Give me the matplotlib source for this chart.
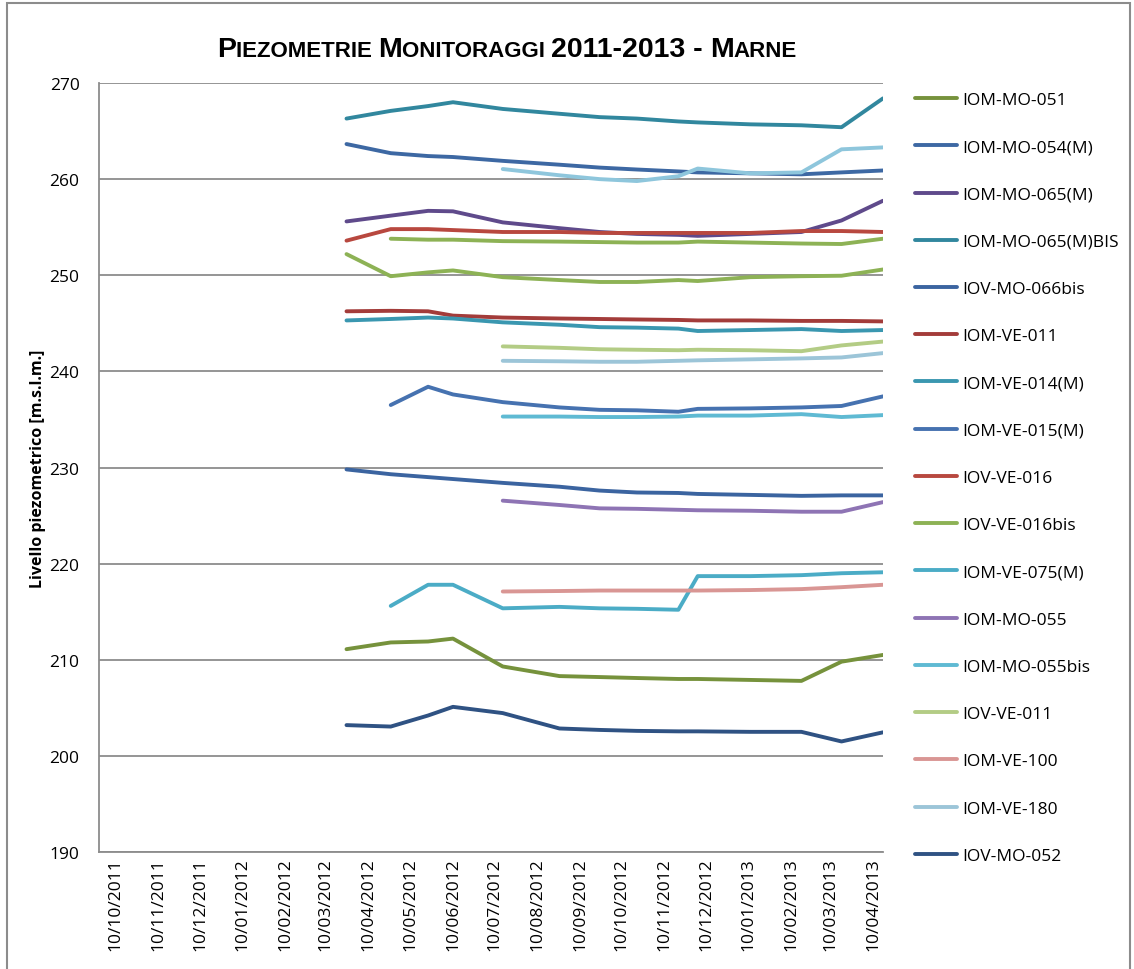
import numpy as np
import matplotlib.pyplot as plt
import matplotlib.dates as mdates
from matplotlib.patches import Rectangle

# ── Dati ─────────────────────────────────────────────────────────────────────
date_campagne = np.array([
    "2012-03-25", "2012-04-26", "2012-05-23", "2012-06-10", "2012-07-16",
    "2012-08-26", "2012-09-24", "2012-10-21", "2012-11-20", "2012-12-04",
    "2013-01-11", "2013-02-17", "2013-03-18", "2013-04-17",
], dtype="datetime64[D]")

n = np.nan
mo_051      = [211.1, 211.8, 211.9, 212.2, 209.3, 208.3, 208.2, 208.1, 208.0, 208.0, 207.9, 207.8, 209.8, 210.5]
mo_054m     = [263.65, 262.7, 262.4, 262.3, 261.9, 261.5, 261.2, 261.0, 260.8, 260.7, 260.6, 260.5, 260.7, 260.9]
mo_065m     = [255.6, 256.2, 256.7, 256.65, 255.5, 254.9, 254.5, 254.3, 254.2, 254.1, 254.3, 254.5, 255.7, 257.75]
mo_065m_bis = [266.3, 267.1, 267.6, 268.0, 267.3, 266.8, 266.45, 266.3, 266.0, 265.9, 265.7, 265.6, 265.4, 268.4]
mo_066bis   = [229.8, 229.3, 229.0, 228.8, 228.4, 228.0, 227.6, 227.4, 227.35, 227.25, 227.15, 227.05, 227.1, 227.1]
ve_011      = [246.25, 246.3, 246.25, 245.8, 245.6, 245.5, 245.45, 245.4, 245.35, 245.3, 245.3, 245.25, 245.25, 245.2]
ve_014m     = [245.3, 245.45, 245.6, 245.5, 245.1, 244.85, 244.6, 244.55, 244.45, 244.2, 244.3, 244.4, 244.2, 244.3]
ve_015m     = [n, 236.5, 238.4, 237.6, 236.8, 236.25, 236.0, 235.95, 235.8, 236.1, 236.15, 236.25, 236.4, 237.4]
iov_ve_016  = [253.6, 254.8, 254.8, 254.7, 254.5, 254.5, 254.4, 254.4, 254.4, 254.4, 254.4, 254.6, 254.6, 254.5]
iov_016bis  = [252.2, 249.9, 250.3, 250.5, 249.8, 249.5, 249.3, 249.3, 249.5, 249.4, 249.8, 249.9, 249.95, 250.6]
ve_075m     = [n, 215.6, 217.8, 217.8, 215.35, 215.5, 215.35, 215.3, 215.2, 218.7, 218.7, 218.8, 219.0, 219.1]
mo_055      = [n, n, n, n, 226.55, 226.1, 225.75, 225.7, 225.6, 225.55, 225.5, 225.4, 225.4, 226.4]
mo_055bis   = [n, n, n, n, 235.3, 235.3, 235.25, 235.25, 235.3, 235.4, 235.4, 235.55, 235.25, 235.45]
iov_ve_011  = [n, n, n, n, 242.6, 242.45, 242.3, 242.25, 242.2, 242.25, 242.2, 242.1, 242.7, 243.1]
ve_100      = [n, n, n, n, 217.1, 217.15, 217.2, 217.2, 217.2, 217.2, 217.25, 217.35, 217.55, 217.8]
ve_180      = [n, n, n, n, 241.1, 241.05, 241.0, 241.0, 241.1, 241.15, 241.25, 241.35, 241.45, 241.9]
iov_mo_052  = [203.2, 203.05, 204.2, 205.1, 204.45, 202.85, 202.7, 202.6, 202.55, 202.55, 202.5, 202.5, 201.5, 202.45]
# serie senza voce in legenda
extra_a     = [n, 253.8, 253.7, 253.7, 253.55, 253.5, 253.45, 253.4, 253.4, 253.5, 253.4, 253.3, 253.25, 253.8]
extra_b     = [n, n, n, n, 261.05, 260.4, 260.0, 259.8, 260.3, 261.1, 260.6, 260.7, 263.1, 263.3]

serie = [
    ("IOM-MO-051",         mo_051,      "#76923c"),
    ("IOM-MO-054(M)",      mo_054m,     "#3d68a3"),
    ("IOM-MO-065(M)",      mo_065m,     "#5f4a8b"),
    ("IOM-MO-065(M)BIS",   mo_065m_bis, "#31879e"),
    ("IOV-MO-066bis",      mo_066bis,   "#3b64a0"),
    ("IOM-VE-011",         ve_011,      "#a33c3a"),
    ("IOM-VE-014(M)",      ve_014m,     "#3a97b0"),
    ("IOM-VE-015(M)",      ve_015m,     "#4672b0"),
    ("IOV-VE-016",         iov_ve_016,  "#b8483f"),
    ("IOV-VE-016bis",      iov_016bis,  "#8db255"),
    ("IOM-VE-075(M)",      ve_075m,     "#4bacc6"),
    ("IOM-MO-055",         mo_055,      "#8e74b4"),
    ("IOM-MO-055bis",      mo_055bis,   "#5fbad3"),
    ("IOV-VE-011",         iov_ve_011,  "#b3cc85"),
    ("IOM-VE-100",         ve_100,      "#d99694"),
    ("IOM-VE-180",         ve_180,      "#9cc5d8"),
    ("IOV-MO-052",         iov_mo_052,  "#2f5283"),
    ("_extra_a",           extra_a,     "#8db255"),
    ("_extra_b",           extra_b,     "#8ec6dc"),
]

# ── Figura ───────────────────────────────────────────────────────────────────
plt.rcParams["font.family"] = ["Open Sans", "DejaVu Sans"]
fig = plt.figure(figsize=(11.34, 9.70), dpi=100)
ax = fig.add_axes([99 / 1134, 117 / 970, (883 - 99) / 1134, (853 - 84) / 970])

for label, vals, clr in serie:
    ax.plot(date_campagne, np.array(vals, dtype=float), color=clr, lw=2.8,
            solid_capstyle="round", label=label)

ax.set_ylim(190, 270)
ax.set_yticks(np.arange(190, 271, 10))
ax.set_xlim(np.datetime64("2011-09-28"), np.datetime64("2013-04-17"))
ax.xaxis.set_major_locator(mdates.MonthLocator(bymonthday=10))
ax.xaxis.set_major_formatter(mdates.DateFormatter("%d/%m/%Y"))
ax.tick_params(axis="x", rotation=90, length=0, labelsize=12.5, pad=4)
ax.tick_params(axis="y", length=0, labelsize=12.5, pad=14)
ax.grid(axis="y", color="#8c8c8c", lw=1.3)
ax.set_axisbelow(True)
for s in ["top", "right"]:
    ax.spines[s].set_visible(False)
for s in ["left", "bottom"]:
    ax.spines[s].set_color("#8c8c8c")
    ax.spines[s].set_linewidth(1.3)

ax.set_ylabel("Livello piezometrico [m.s.l.m.]", fontsize=11.5, fontweight="bold")
ax.yaxis.set_label_coords((46 - 99) / 784, 0.5)

fig.legend(loc="upper left", bbox_to_anchor=(915 / 1134, 1 - 93 / 970),
           frameon=False, fontsize=12.5, handlelength=2.4, handletextpad=0.3,
           labelspacing=1.79, borderpad=0, borderaxespad=0)

# titolo in maiuscoletto
pezzi = [("P", 20.5), ("IEZOMETRIE ", 16), ("M", 20.5), ("ONITORAGGI ", 16),
         ("2011-2013 - ", 20.5), ("M", 20.5), ("ARNE", 16)]
renderer = fig.canvas.get_renderer()
testi = []
x0 = 0
for txt, fs in pezzi:
    t = fig.text(x0, 1 - 57 / 970, txt, fontsize=fs, fontweight="bold",
                 family=["Liberation Sans", "DejaVu Sans"], va="baseline")
    w = t.get_window_extent(renderer).width / 1134
    testi.append((t, x0))
    x0 += w
start = 507 / 1134 - x0 / 2
for t, xr in testi:
    t.set_x(start + xr)

fig.patches.append(Rectangle((7 / 1134, -0.01), 1123 / 1134, 1 - 4 / 970 + 0.01,
                             transform=fig.transFigure, fill=False,
                             edgecolor="#8c8c8c", lw=1.5))

plt.savefig("out.png", dpi=100)
